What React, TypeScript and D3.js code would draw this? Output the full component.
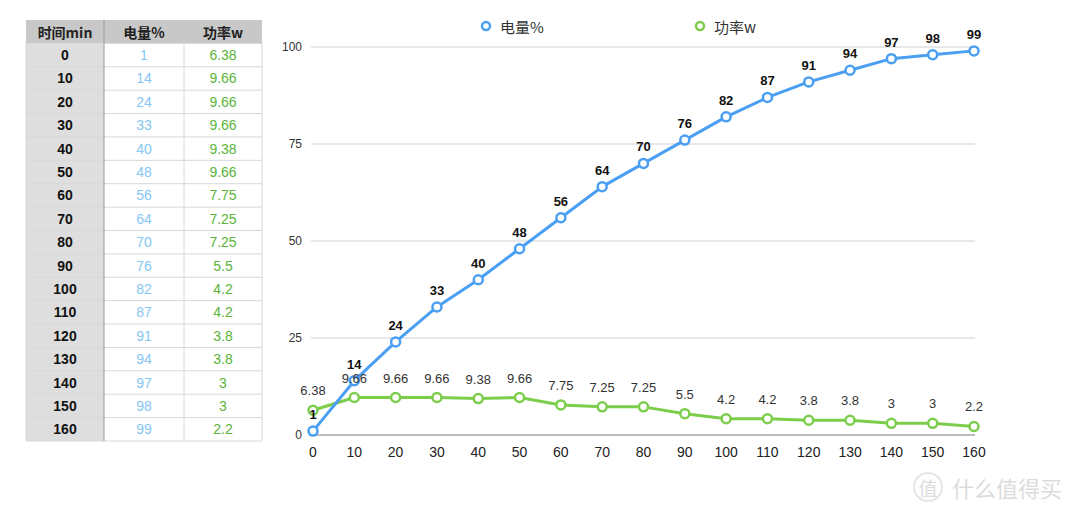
import { useEffect, useRef } from 'react'
import * as d3 from 'd3'

const minutes = [0, 10, 20, 30, 40, 50, 60, 70, 80, 90, 100, 110, 120, 130, 140, 150, 160]
const battery = [1, 14, 24, 33, 40, 48, 56, 64, 70, 76, 82, 87, 91, 94, 97, 98, 99]
const power = [6.38, 9.66, 9.66, 9.66, 9.38, 9.66, 7.75, 7.25, 7.25, 5.5, 4.2, 4.2, 3.8, 3.8, 3, 3, 2.2]
const headers = ['时间min', '电量%', '功率w']
const yTicks = [0, 25, 50, 75, 100]

const BLUE = '#4a9ff2'
const GREEN = '#7dcd4c'
const FONT = '"Liberation Sans", Arial, "Noto Sans CJK SC", sans-serif'

export default function App() {
  const svgRef = useRef<SVGSVGElement>(null)

  useEffect(() => {
    document.body.style.margin = '0'
    const svg = d3.select(svgRef.current)
    svg.selectAll('*').remove()
    svg.append('rect').attr('width', 1080).attr('height', 512).attr('fill', '#fff')

    // table
    const tbl = svg.append('g').attr('font-family', FONT)
    const colX = [26, 104, 184, 262]
    const rowY = d3.scaleLinear().domain([0, 18]).range([20, 441])
    const rowH = rowY(1) - rowY(0)

    tbl.append('rect').attr('x', colX[0]).attr('y', rowY(0)).attr('width', colX[3] - colX[0])
      .attr('height', rowH).attr('fill', '#c8c8c8')
    tbl.append('rect').attr('x', colX[0]).attr('y', rowY(1)).attr('width', colX[1] - colX[0])
      .attr('height', rowY(18) - rowY(1)).attr('fill', '#dedede')

    // borders
    d3.range(1, 19).forEach(i => {
      tbl.append('line').attr('x1', colX[0]).attr('x2', colX[3])
        .attr('y1', rowY(i)).attr('y2', rowY(i)).attr('stroke', '#d8d8d8').attr('stroke-width', 1)
    })
    colX.forEach((x, i) => {
      tbl.append('line').attr('x1', x).attr('x2', x)
        .attr('y1', i === 1 ? rowY(0) : rowY(1)).attr('y2', rowY(18))
        .attr('stroke', i === 1 ? '#9a9a9a' : '#d8d8d8').attr('stroke-width', 1)
    })

    const colMid = (c: number) => (colX[c] + colX[c + 1]) / 2
    headers.forEach((h, c) => {
      tbl.append('text').attr('x', colMid(c)).attr('y', rowY(0) + rowH / 2)
        .attr('text-anchor', 'middle').attr('dominant-baseline', 'central')
        .attr('font-size', 14).attr('font-weight', 'bold').attr('fill', '#222')
        .attr('font-family', '"Noto Sans CJK SC", sans-serif')
        .text(h)
    })
    minutes.forEach((m, i) => {
      const y = rowY(i + 1) + rowH / 2
      const cells: [string, string, string][] = [
        [String(m), '#111', 'bold'],
        [String(battery[i]), '#86c6f4', 'normal'],
        [String(power[i]), '#5ab43a', 'normal'],
      ]
      cells.forEach(([t, fill, weight], c) => {
        tbl.append('text').attr('x', colMid(c)).attr('y', y)
          .attr('text-anchor', 'middle').attr('dominant-baseline', 'central')
          .attr('font-size', 14).attr('font-weight', weight).attr('fill', fill)
          .text(t)
      })
    })

    // chart
    const x = d3.scaleLinear().domain([0, 160]).range([313, 974])
    const y = d3.scaleLinear().domain([0, 100]).range([435, 47])

    const g = svg.append('g').attr('font-family', FONT)

    yTicks.forEach(t => {
      g.append('line').attr('x1', 311).attr('x2', 975)
        .attr('y1', y(t)).attr('y2', y(t))
        .attr('stroke', t === 0 ? '#777' : '#d0d0d0').attr('stroke-width', 1)
      g.append('text').attr('x', 302).attr('y', y(t)).attr('text-anchor', 'end')
        .attr('dominant-baseline', 'central').attr('font-size', 12).attr('fill', '#333')
        .text(t)
    })
    minutes.forEach(m => {
      g.append('text').attr('x', x(m)).attr('y', 452).attr('text-anchor', 'middle')
        .attr('dominant-baseline', 'central').attr('font-size', 14).attr('fill', '#222')
        .text(m)
    })

    const line = d3.line<number>().x((_, i) => x(minutes[i])).y(d => y(d))

    const drawSeries = (vals: number[], color: string) => {
      g.append('path').attr('d', line(vals)).attr('fill', 'none')
        .attr('stroke', color).attr('stroke-width', 3).attr('stroke-linejoin', 'round')
      g.selectAll(null).data(vals).enter().append('circle')
        .attr('cx', (_, i) => x(minutes[i])).attr('cy', d => y(d)).attr('r', 4.5)
        .attr('fill', '#fff').attr('stroke', color).attr('stroke-width', 2.5)
    }
    drawSeries(power, GREEN)
    drawSeries(battery, BLUE)

    g.selectAll(null).data(power).enter().append('text')
      .attr('x', (_, i) => x(minutes[i])).attr('y', d => y(d) - 15)
      .attr('text-anchor', 'middle').attr('font-size', 13).attr('fill', '#333')
      .text(d => d)
    g.selectAll(null).data(battery).enter().append('text')
      .attr('x', (_, i) => x(minutes[i])).attr('y', d => y(d) - 12)
      .attr('text-anchor', 'middle').attr('font-size', 13).attr('font-weight', 'bold').attr('fill', '#111')
      .text(d => d)

    // legend
    const legend = [
      { name: '电量%', color: BLUE, x: 486 },
      { name: '功率w', color: GREEN, x: 700 },
    ]
    legend.forEach(l => {
      g.append('circle').attr('cx', l.x).attr('cy', 26).attr('r', 4)
        .attr('fill', '#fff').attr('stroke', l.color).attr('stroke-width', 2.5)
      g.append('text').attr('x', l.x + 14).attr('y', 26).attr('dominant-baseline', 'central')
        .attr('font-size', 15).attr('fill', '#333')
        .attr('font-family', '"Noto Sans CJK SC", sans-serif')
        .text(l.name)
    })

    // watermark
    const wm = svg.append('g').attr('fill', '#dcdcdc').attr('font-family', '"Noto Sans CJK SC", sans-serif')
    wm.append('circle').attr('cx', 928).attr('cy', 487).attr('r', 14)
      .attr('fill', 'none').attr('stroke', '#e0e0e0').attr('stroke-width', 1.5)
    wm.append('text').attr('x', 928).attr('y', 487).attr('text-anchor', 'middle')
      .attr('dominant-baseline', 'central').attr('font-size', 19).text('值')
    wm.append('text').attr('x', 952).attr('y', 487)
      .attr('dominant-baseline', 'central').attr('font-size', 22).text('什么值得买')
  }, [])

  return (
    <svg
      ref={svgRef}
      width={1080}
      height={512}
      style={{ position: 'absolute', left: 0, top: 0, display: 'block' }}
    />
  )
}
